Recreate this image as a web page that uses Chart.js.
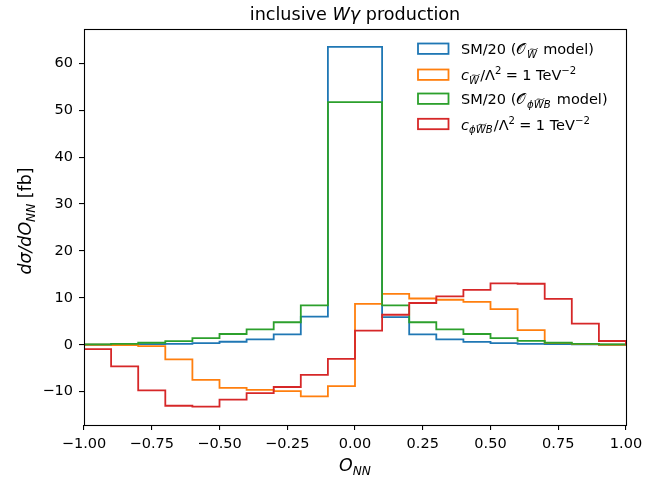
<!DOCTYPE html>
<html>
<head>
<meta charset="utf-8">
<script src="https://cdn.jsdelivr.net/npm/chart.js@4/dist/chart.umd.min.js"></script>
<style>
  html, body { margin: 0; padding: 0; background: #fff; }
  #wrap { width: 667px; height: 479px; position: relative; }
</style>
</head>
<body>
<div id="wrap"><canvas id="c"></canvas></div>
<script>
// Histogram bin edges in O_NN (20 bins of width 0.1)
const binEdges = [-1.0, -0.9, -0.8, -0.7, -0.6, -0.5, -0.4, -0.3, -0.2, -0.1, 0.0,
                  0.1, 0.2, 0.3, 0.4, 0.5, 0.6, 0.7, 0.8, 0.9, 1.0];

// dσ/dO_NN per bin [fb]
const smW      = [0.0, 0.1, 0.15, 0.2, 0.35, 0.64, 1.13, 2.2, 6.0, 63.5,
                  63.5, 5.9, 2.2, 1.13, 0.6, 0.35, 0.2, 0.15, 0.1, 0.0];
const cW       = [0.0, -0.05, -0.3, -3.1, -7.5, -9.2, -9.6, -9.9, -11.0, -8.8,
                  8.7, 10.85, 9.86, 9.6, 9.15, 7.6, 3.1, 0.35, 0.14, 0.0];
const smPhiWB  = [0.07, 0.2, 0.43, 0.78, 1.4, 2.3, 3.3, 4.8, 8.4, 51.7,
                  51.7, 8.4, 4.8, 3.3, 2.3, 1.4, 0.85, 0.43, 0.2, 0.07];
const cPhiWB   = [-0.92, -4.6, -9.7, -13.0, -13.2, -11.7, -10.3, -9.0, -6.4, -3.0,
                  3.0, 6.4, 8.9, 10.3, 11.7, 13.1, 13.0, 9.8, 4.5, 0.8];

// Axis ticks
const xTicks = [-1.0, -0.75, -0.5, -0.25, 0.0, 0.25, 0.5, 0.75, 1.0];
const xTickLabels = ['\u22121.00', '\u22120.75', '\u22120.50', '\u22120.25', '0.00', '0.25', '0.50', '0.75', '1.00'];
const yTicks = [-10, 0, 10, 20, 30, 40, 50, 60];
const yTickLabels = ['\u221210', '0', '10', '20', '30', '40', '50', '60'];

const COLORS = { blue: '#1f77b4', orange: '#ff7f0e', green: '#2ca02c', red: '#d62728' };
const FONT = '"DejaVu Sans", "Liberation Sans", sans-serif';
const TICK_SIZE = 14.5, LABEL_SIZE = 17.4, TITLE_SIZE = 17.6, LEGEND_SIZE = 14.5;

// Outline of a step histogram: up from 0 at the first edge, across each bin, down to 0 at the last edge
function stepOutline(values) {
  const pts = [{ x: binEdges[0], y: 0 }];
  values.forEach((v, i) => pts.push({ x: binEdges[i], y: v }));
  pts.push({ x: binEdges[binEdges.length - 1], y: 0 });
  return pts;
}

function histDataset(values, color, order) {
  return {
    data: stepOutline(values),
    borderColor: color,
    backgroundColor: color,
    borderWidth: 1.8,
    pointRadius: 0,
    fill: false,
    stepped: 'before',
    order: order
  };
}

// Text with italic runs, sub/superscripts and tilde accents
function drawRich(ctx, segs, x, y, size, align) {
  const parts = segs.map(s => {
    const sz = size * (s.s || 1);
    const font = (s.it ? 'italic ' : '') + sz.toFixed(2) + 'px ' + FONT;
    ctx.font = font;
    return Object.assign({}, s, { font, sz, w: ctx.measureText(s.t).width + (s.gap || 0) * size });
  });
  const total = parts.reduce((a, p) => a + p.w, 0);
  let cx = align === 'center' ? x - total / 2 : x;
  ctx.textAlign = 'left';
  ctx.textBaseline = 'alphabetic';
  for (const p of parts) {
    ctx.font = p.font;
    const by = y + (p.dy || 0) * size;
    ctx.fillText(p.t, cx, by);
    if (p.tilde) {
      const gw = p.w - (p.gap || 0) * size;
      const tw = gw * 0.8;
      const tx = cx + gw * 0.18 + (p.it ? p.sz * 0.08 : 0);
      const ty = by - p.sz * 0.86;
      const h = p.sz * 0.09;
      ctx.save();
      ctx.lineWidth = 0.8;
      ctx.strokeStyle = ctx.fillStyle;
      ctx.beginPath();
      ctx.moveTo(tx, ty + h);
      ctx.bezierCurveTo(tx + tw * 0.3, ty - 2 * h, tx + tw * 0.7, ty + 3 * h, tx + tw, ty - h);
      ctx.stroke();
      ctx.restore();
    }
    cx += p.w;
  }
}

const SUB = 0.7, SUBDY = 0.24, SUPDY = -0.42;

const legendRows = [
  { color: COLORS.blue, cy: 48.7, segs: [
    { t: 'SM/20 (' }, { t: '\u{1D4AA}', gap: 0.12 },
    { t: 'W', it: true, s: SUB, dy: SUBDY, tilde: true, gap: 0.1 },
    { t: ' model)' }] },
  { color: COLORS.orange, cy: 74.7, segs: [
    { t: 'c', it: true }, { t: 'W', it: true, s: SUB, dy: SUBDY, tilde: true, gap: 0.08 },
    { t: '/\u039B' }, { t: '2', s: SUB, dy: SUPDY, gap: 0.3 },
    { t: '=', gap: 0.3 }, { t: '1 TeV' }, { t: '\u22122', s: SUB, dy: SUPDY }] },
  { color: COLORS.green, cy: 98.7, segs: [
    { t: 'SM/20 (' }, { t: '\u{1D4AA}', gap: 0.12 },
    { t: '\u03D5', it: true, s: SUB, dy: SUBDY },
    { t: 'W', it: true, s: SUB, dy: SUBDY, tilde: true },
    { t: 'B', it: true, s: SUB, dy: SUBDY, gap: 0.1 },
    { t: ' model)' }] },
  { color: COLORS.red, cy: 124, segs: [
    { t: 'c', it: true },
    { t: '\u03D5', it: true, s: SUB, dy: SUBDY },
    { t: 'W', it: true, s: SUB, dy: SUBDY, tilde: true },
    { t: 'B', it: true, s: SUB, dy: SUBDY, gap: 0.08 },
    { t: '/\u039B' }, { t: '2', s: SUB, dy: SUPDY, gap: 0.3 },
    { t: '=', gap: 0.3 }, { t: '1 TeV' }, { t: '\u22122', s: SUB, dy: SUPDY }] }
];

const decorations = {
  id: 'decorations',
  afterDraw(chart) {
    const ctx = chart.ctx;
    const a = chart.chartArea;
    ctx.save();
    // axes frame
    ctx.strokeStyle = '#000';
    ctx.lineWidth = 1.1;
    ctx.strokeRect(Math.round(a.left) + 0.5, Math.round(a.top) + 0.5,
                   Math.round(a.right - a.left), Math.round(a.bottom - a.top));
    ctx.fillStyle = '#000';
    const mid = (a.left + a.right) / 2;
    // title
    drawRich(ctx, [{ t: 'inclusive ' }, { t: 'W\u03B3', it: true }, { t: ' production' }],
             mid, 19.5, TITLE_SIZE, 'center');
    // x axis label
    drawRich(ctx, [{ t: 'O', it: true }, { t: 'NN', it: true, s: SUB, dy: SUBDY }],
             mid, 470.5, LABEL_SIZE, 'center');
    // y axis label
    ctx.save();
    ctx.translate(31, 221);
    ctx.rotate(-Math.PI / 2);
    drawRich(ctx, [{ t: 'd\u03C3/dO', it: true }, { t: 'NN', it: true, s: SUB, dy: SUBDY }, { t: ' [fb]' }],
             0, 0, LABEL_SIZE, 'center');
    ctx.restore();
    // legend
    for (const row of legendRows) {
      ctx.strokeStyle = row.color;
      ctx.lineWidth = 1.8;
      ctx.strokeRect(418, row.cy - 5.2, 30.5, 10.4);
      ctx.fillStyle = '#000';
      drawRich(ctx, row.segs, 461, row.cy + 5.6, LEGEND_SIZE, 'left');
    }
    ctx.restore();
  }
};

new Chart(document.getElementById('c'), {
  type: 'line',
  data: {
    datasets: [
      histDataset(smW, COLORS.blue, 4),
      histDataset(cW, COLORS.orange, 3),
      histDataset(smPhiWB, COLORS.green, 2),
      histDataset(cPhiWB, COLORS.red, 1)
    ]
  },
  options: {
    responsive: true,
    maintainAspectRatio: false,
    animation: false,
    events: [],
    layout: { padding: { top: 29, right: 41, left: 0, bottom: 0 } },
    plugins: { legend: { display: false }, title: { display: false }, tooltip: { enabled: false } },
    scales: {
      x: {
        type: 'linear',
        min: -1, max: 1,
        afterBuildTicks: s => { s.ticks = xTicks.map(v => ({ value: v })); },
        afterFit: s => { s.height = 54; },
        ticks: {
          callback: (v, i) => xTickLabels[i],
          font: { family: FONT, size: TICK_SIZE },
          color: '#000',
          padding: 6,
          maxRotation: 0,
          autoSkip: false
        },
        grid: { drawOnChartArea: false, drawTicks: true, tickLength: 5, color: '#000', lineWidth: 1.1 },
        border: { display: false }
      },
      y: {
        type: 'linear',
        min: -17.1, max: 67.3,
        afterBuildTicks: s => { s.ticks = yTicks.map(v => ({ value: v })); },
        afterFit: s => { s.width = 84; },
        ticks: {
          callback: (v, i) => yTickLabels[i],
          font: { family: FONT, size: TICK_SIZE },
          color: '#000',
          padding: 6,
          autoSkip: false
        },
        grid: { drawOnChartArea: false, drawTicks: true, tickLength: 5, color: '#000', lineWidth: 1.1 },
        border: { display: false }
      }
    }
  },
  plugins: [decorations]
});
</script>
</body>
</html>
